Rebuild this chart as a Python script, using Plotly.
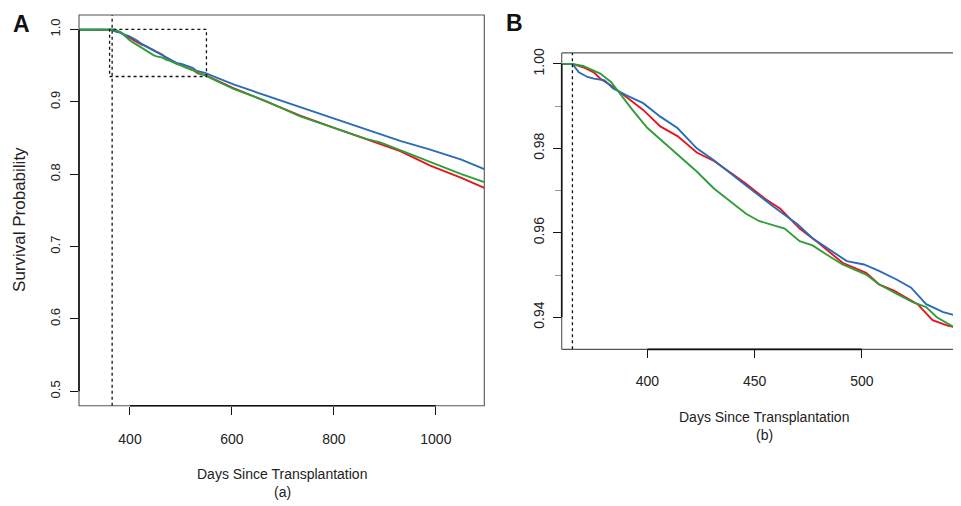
import plotly.graph_objects as go

# ---------------- data ----------------
red_days = [0, 365, 370, 375, 378, 383, 390, 398, 406, 414, 423, 431, 440, 446, 455, 462,
            471, 480, 491, 502, 508, 515, 526, 533, 540, 547, 603, 668, 734, 799, 865,
            891, 930, 989, 1050, 1095]
red_surv = [1.0, 1.0, 0.9992, 0.998, 0.9965, 0.9949, 0.9922, 0.9891, 0.9852, 0.9829, 0.979,
            0.977, 0.9738, 0.9716, 0.968, 0.9657, 0.961, 0.9575, 0.9529, 0.9505, 0.9478,
            0.9463, 0.9431, 0.9393, 0.938, 0.9373, 0.919, 0.9007, 0.881, 0.8643, 0.8484,
            0.8415, 0.832, 0.812, 0.795, 0.781]

blue_days = [0, 365, 368, 372, 375, 380, 384, 390, 398, 406, 414, 423, 431, 440, 446, 459,
             470, 477, 487, 493, 501, 508, 516, 523, 530, 538, 547, 603, 668, 734, 799,
             865, 891, 930, 989, 1050, 1095]
blue_surv = [1.0, 1.0, 0.998, 0.9969, 0.9965, 0.9961, 0.9942, 0.9926, 0.9907, 0.9875, 0.9848,
             0.980, 0.9772, 0.9735, 0.9712, 0.9661, 0.962, 0.9587, 0.9552, 0.9533, 0.9525,
             0.951, 0.949, 0.947, 0.9431, 0.9412, 0.940, 0.924, 0.9083, 0.8928, 0.877,
             0.8616, 0.855, 0.846, 0.834, 0.820, 0.807]

green_days = [0, 365, 370, 375, 378, 383, 387, 393, 400, 406, 415, 423, 431, 440, 446, 452,
              459, 464, 471, 477, 485, 491, 502, 508, 515, 524, 530, 535, 547, 603, 668,
              734, 799, 865, 891, 930, 989, 1050, 1095]
green_surv = [1.0, 1.0, 0.9995, 0.9984, 0.9977, 0.9957, 0.993, 0.9891, 0.9848, 0.9821, 0.978,
              0.9745, 0.9705, 0.967, 0.9645, 0.9628, 0.9618, 0.961, 0.958, 0.957, 0.9544,
              0.9525, 0.9501, 0.9478, 0.9459, 0.9435, 0.9424, 0.940, 0.9365, 0.918, 0.9007,
              0.880, 0.8643, 0.8484, 0.844, 0.833, 0.8165, 0.800, 0.789]

series = [
    ("Red", red_days, red_surv, "#e5161f"),
    ("Blue", blue_days, blue_surv, "#2b6cb8"),
    ("Green", green_days, green_surv, "#2f9e3a"),
]

a_xticks = [400, 600, 800, 1000]
a_yticks = [0.5, 0.6, 0.7, 0.8, 0.9, 1.0]
a_ylabels = ["0.5", "0.6", "0.7", "0.8", "0.9", "1.0"]
b_xticks = [400, 450, 500]
b_yticks = [0.94, 0.96, 0.98, 1.00]
b_ylabels = ["0.94", "0.96", "0.98", "1.00"]
b_yminor = [0.95, 0.97, 0.99]
landmark_day = 365
zoom_box = (360, 550, 0.935, 1.0)

FONT = "Liberation Sans, Arial, Helvetica, sans-serif"
W, H = 961, 506
OX, OY = 8, 12   # page offset of the plot div inside the browser window

fig = go.Figure()
for name, d, s, c in series:
    fig.add_trace(go.Scatter(x=d, y=s, mode="lines", name=name, line=dict(color=c, width=1.9),
                             xaxis="x", yaxis="y", showlegend=False))
    fig.add_trace(go.Scatter(x=d, y=s, mode="lines", name=name, line=dict(color=c, width=1.9),
                             xaxis="x2", yaxis="y2", showlegend=False))

def px_x(p):
    return (p - OX) / W

def px_y(p):
    return 1 - (p - OY) / H

common = dict(showgrid=False, zeroline=False, showline=False, ticks="outside",
              tickcolor="#111", tickwidth=1.2, color="#222")

fig.update_layout(
    width=W, height=H, margin=dict(l=0, r=0, t=0, b=0),
    paper_bgcolor="white", plot_bgcolor="white",
    font=dict(family=FONT, color="#222"),
    xaxis=dict(domain=[px_x(79), px_x(484.3)], range=[300, 1095], anchor="y",
               tickvals=a_xticks, ticklen=8, ticklabelstandoff=12,
               tickfont=dict(size=14, family=FONT), **common),
    yaxis=dict(domain=[px_y(408.7), px_y(14)], range=[0.48, 1.02], anchor="x",
               tickvals=a_yticks, ticktext=a_ylabels, tickangle=-90, ticklen=8,
               ticklabelstandoff=5, tickfont=dict(size=13, family=FONT), **common),
    xaxis2=dict(domain=[px_x(561.7), px_x(963)], range=[360, 547.2], anchor="y2",
                tickvals=b_xticks, ticklen=8, ticklabelstandoff=11,
                tickfont=dict(size=14, family=FONT), **common),
    yaxis2=dict(domain=[px_y(351.7), px_y(52.3)], range=[0.9324, 1.0026], anchor="x2",
                tickvals=b_yticks, ticktext=b_ylabels, tickangle=-90, ticklen=8,
                ticklabelstandoff=3, tickfont=dict(size=14, family=FONT),
                minor=dict(tickvals=b_yminor, ticks="outside", ticklen=6,
                           tickcolor="#999", tickwidth=1), **common),
)

shapes = []
# panel A box and axis segments
shapes.append(dict(type="rect", xref="x domain", yref="y domain", x0=0, x1=1, y0=0, y1=1,
                   line=dict(color="#555", width=1.1), layer="below"))
shapes.append(dict(type="line", xref="x domain", yref="y", x0=0, x1=0,
                   y0=a_yticks[0], y1=a_yticks[-1], line=dict(color="#111", width=1.6)))
shapes.append(dict(type="line", xref="x", yref="y domain", x0=a_xticks[0], x1=a_xticks[-1],
                   y0=0, y1=0, line=dict(color="#111", width=1.6)))
# panel B frame (right side is off the picture)
for (x0, x1, y0, y1) in [(0, 0, 0, 1), (0, 1, 1, 1), (0, 1, 0, 0)]:
    shapes.append(dict(type="line", xref="x2 domain", yref="y2 domain", x0=x0, x1=x1,
                       y0=y0, y1=y1, line=dict(color="#555", width=1.1)))
shapes.append(dict(type="line", xref="x2 domain", yref="y2", x0=0, x1=0,
                   y0=b_yticks[0], y1=b_yticks[-1], line=dict(color="#111", width=1.6)))
shapes.append(dict(type="line", xref="x2", yref="y2 domain", x0=b_xticks[0], x1=b_xticks[-1],
                   y0=0, y1=0, line=dict(color="#111", width=1.6)))
# landmark lines
for xr, yr in [("x", "y domain"), ("x2", "y2 domain")]:
    shapes.append(dict(type="line", xref=xr, yref=yr, x0=landmark_day, x1=landmark_day,
                       y0=0, y1=1, line=dict(color="#111", width=1.3, dash="3px,3px")))
# zoom box in A
shapes.append(dict(type="rect", xref="x", yref="y", x0=zoom_box[0], x1=zoom_box[1],
                   y0=zoom_box[2], y1=zoom_box[3],
                   line=dict(color="#111", width=1.3, dash="3px,3px")))
fig.update_layout(shapes=shapes)

def ann(text, x, y, size, bold=False, angle=0):
    return dict(text=("<b>%s</b>" % text) if bold else text, x=px_x(x), y=px_y(y),
                xref="paper", yref="paper", showarrow=False, xanchor="center",
                yanchor="middle", textangle=angle,
                font=dict(size=size, family=FONT, color="#111" if bold else "#222"))

fig.update_layout(annotations=[
    ann("A", 21, 23, 23, bold=True),
    ann("B", 514, 22, 23, bold=True),
    ann("Survival Probability", 20, 221, 17, angle=-90),
    ann("Days Since Transplantation", 282, 478, 14),
    ann("(a)", 282, 496, 14),
    ann("Days Since Transplantation", 764, 420, 14),
    ann("(b)", 764, 438.5, 14),
])

fig.write_html("out.html")
